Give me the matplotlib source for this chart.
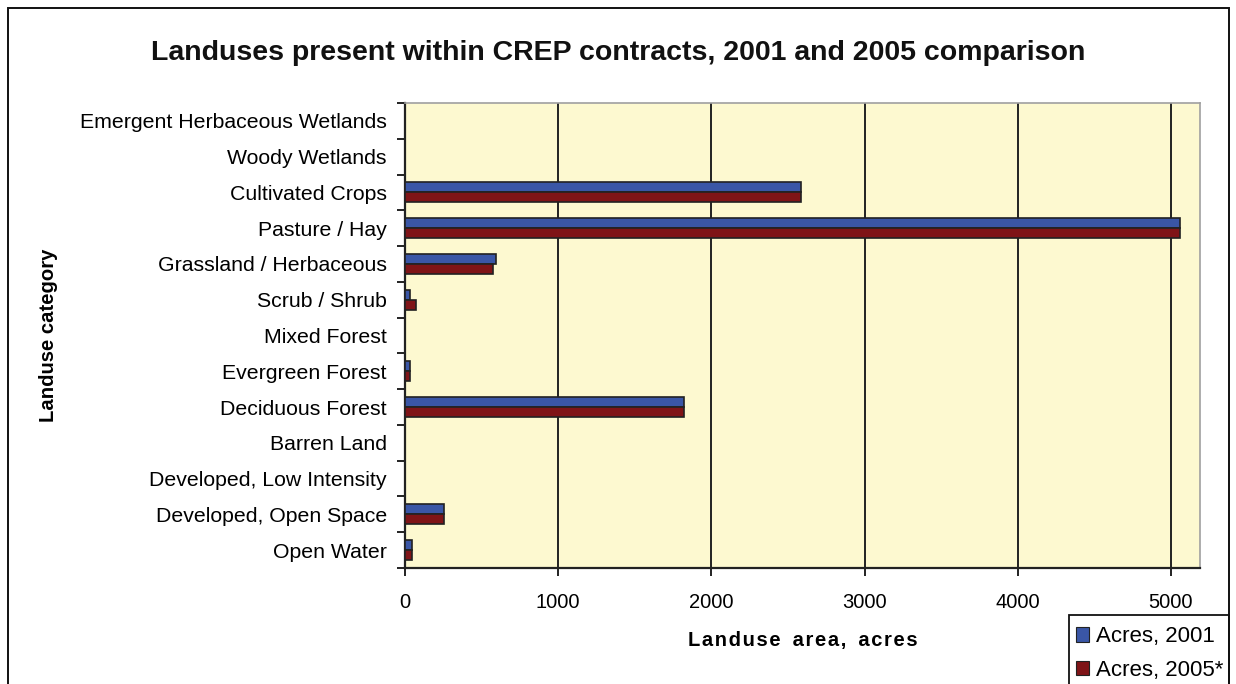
import numpy as np
import matplotlib.pyplot as plt
from matplotlib.patches import Rectangle

plt.rcParams['font.family'] = ['Liberation Sans', 'DejaVu Sans']

# ---- Data ---- #
categories = ["Open Water", "Developed, Open Space", "Developed, Low Intensity",
              "Barren Land", "Deciduous Forest", "Evergreen Forest", "Mixed Forest",
              "Scrub / Shrub", "Grassland / Herbaceous", "Pasture / Hay",
              "Cultivated Crops", "Woody Wetlands", "Emergent Herbaceous Wetlands"]
acres_2001 = [46, 253, 0, 0, 1818, 35, 0, 35, 597, 5056, 2587, 0, 0]
acres_2005 = [46, 253, 0, 0, 1818, 35, 0, 70, 573, 5056, 2587, 0, 0]
x_ticks = [0, 1000, 2000, 3000, 4000, 5000]

blue = "#3a56a6"
red = "#7f1417"
plot_bg = "#fdf9d0"

fig = plt.figure(figsize=(12.36, 6.84), dpi=100)
ax = fig.add_axes([0.3277, 0.1696, 0.6432, 0.6798])
ax.set_facecolor(plot_bg)

y = np.arange(len(categories))
h = 0.28
ax.barh(y + h / 2, acres_2001, height=h, color=blue, edgecolor="#222222",
        linewidth=1.2, label="Acres, 2001", zorder=3)
ax.barh(y - h / 2, acres_2005, height=h, color=red, edgecolor="#222222",
        linewidth=1.2, label="Acres, 2005*", zorder=3)

ax.set_xlim(0, 5190)
ax.set_ylim(-0.5, len(categories) - 0.5)

# vertical gridlines
for v in x_ticks[1:]:
    ax.axvline(v, color="#222222", linewidth=1.4, zorder=1)

ax.set_xticks(x_ticks)
ax.set_xticklabels([str(v) for v in x_ticks], fontsize=14.5)
ax.tick_params(axis="x", length=6, width=1.4, color="#222222", pad=12)

ax.set_yticks(y)
ax.set_yticklabels(categories, fontsize=15.3)
ax.set_yticks(np.arange(-0.5, len(categories), 1.0), minor=True)
ax.tick_params(axis="y", which="major", length=0, pad=13)
ax.tick_params(axis="y", which="minor", length=6, width=1.4, color="#222222")

for side in ["top", "right"]:
    ax.spines[side].set_color("#a0a0a0")
    ax.spines[side].set_linewidth(1.2)
for side in ["left", "bottom"]:
    ax.spines[side].set_color("#222222")
    ax.spines[side].set_linewidth(1.6)

# spaced-out bold axis title
xlabel = "L a n d u s e   a r e a ,   a c r e s".replace("   ", "\u2009\u2009\u2009").replace(" ", "\u200a")
ax.set_xlabel(xlabel, fontsize=14.5, fontweight="bold", labelpad=14)
ax.set_ylabel("Landuse category", fontsize=14.6, fontweight="bold")
ax.yaxis.set_label_coords(-0.437, 0.5)

fig.text(0.5, 0.923, "Landuses present within CREP contracts, 2001 and 2005 comparison",
         ha="center", va="center", fontsize=20.5, fontweight="bold", color="#111111")

# legend box runs off the bottom edge
fig.patches.append(Rectangle((0.8649, -0.1), 0.1293, 0.2009, transform=fig.transFigure,
                             fill=False, edgecolor="#111111", linewidth=1.3))
leg = fig.legend(loc="upper left", bbox_to_anchor=(0.8649, 0.094), frameon=False,
                 fontsize=16, handlelength=0.6, handleheight=0.6,
                 handletextpad=0.3, borderpad=0.3, labelspacing=0.55,
                 borderaxespad=0)
for hnd in leg.legend_handles:
    hnd.set_edgecolor("#222222")
    hnd.set_linewidth(0.8)

# outer frame around the chart
fig.patches.append(Rectangle((0.0065, -0.05), 0.9877, 1.038, transform=fig.transFigure,
                             fill=False, edgecolor="#111111", linewidth=1.4))

fig.savefig("out.png", dpi=100)
